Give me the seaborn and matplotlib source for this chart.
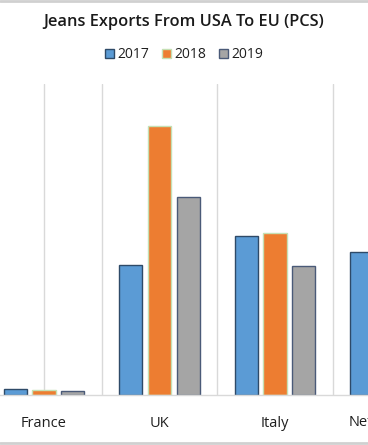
import pandas as pd
import numpy as np
import matplotlib
matplotlib.use('Agg')
import matplotlib.pyplot as plt
import seaborn as sns
from matplotlib.lines import Line2D

# Datos (miles de piezas, estimados del gráfico)
countries = ['France', 'UK', 'Italy', 'Netherlands']
years = ['2017', '2018', '2019']
exports_2017 = [6.0, 130.0, 159.3, 142.5]
exports_2018 = [4.7, 269.0, 162.3, np.nan]
exports_2019 = [3.7, 197.7, 129.3, np.nan]

colors = ['#5B9BD5', '#ED7D31', '#A5A5A5']
edges = ['#2E4A68', '#C5E0B4', '#4A5A78']

df = pd.DataFrame({
    'country': countries * 3,
    'year': [y for y in years for _ in countries],
    'value': exports_2017 + exports_2018 + exports_2019,
})

sns.set_style('white')
plt.rcParams['font.family'] = ['Open Sans', 'DejaVu Sans']

fig = plt.figure(figsize=(3.68, 4.45), dpi=100)
ax = fig.add_axes([0, 1 - 395 / 445, 1, (395 - 84) / 445])

sns.barplot(data=df, x='country', y='value', hue='year', order=countries,
            hue_order=years, palette=colors, width=0.75, gap=0.2,
            saturation=1, ax=ax, legend=False)

for cont, ec in zip(ax.containers, edges):
    for bar in cont:
        bar.set_edgecolor(ec)
        bar.set_linewidth(1.0)

ax.set_xlim(-44 / 115.5, (368 - 44) / 115.5)
ax.set_ylim(0, 311)
ax.set_yticks([])
ax.set_xlabel('')
ax.set_ylabel('')
for s in ['top', 'left', 'right']:
    ax.spines[s].set_visible(False)
ax.spines['bottom'].set_color('#D9D9D9')
ax.spines['bottom'].set_linewidth(1.0)

# líneas verticales de la cuadrícula
ax.xaxis.remove_overlapping_locs = False
ax.set_xticks([0, 0.5, 1.5, 2.5], minor=True)
ax.grid(which='minor', axis='x', color='#D9D9D9', linewidth=1.0)
ax.grid(which='major', visible=False)
ax.set_axisbelow(True)
ax.tick_params(axis='x', which='both', length=0, pad=15, labelsize=10.5,
               labelcolor='#1F1F1F')

# etiqueta de la categoría cortada por el borde derecho
ax.annotate(countries[3], xy=(3, 0), xycoords=('data', 'axes fraction'),
            xytext=(0, -27), textcoords='offset pixels', ha='center', va='center',
            fontsize=10.5, color='#1F1F1F', annotation_clip=False)

handles = [plt.Rectangle((0, 0), 1, 1, facecolor=c, edgecolor=e, linewidth=1)
           for c, e in zip(colors, edges)]
fig.legend(handles, years, loc='center', bbox_to_anchor=(0.5, 1 - 55 / 445),
           ncol=3, frameon=False, fontsize=10, handlelength=0.65,
           handleheight=0.65, handletextpad=0.25, columnspacing=0.9,
           labelcolor='#1F1F1F')

fig.suptitle('Jeans Exports From USA To EU (PCS)', x=0.5, y=1 - 22 / 445,
             va='center', fontsize=11.8, color='#1A1A1A', fontweight='semibold')

# marco del gráfico (recortado)
fig.add_artist(Line2D([0, 1], [1 - 1 / 445, 1 - 1 / 445], color='#D0D0D0',
                      linewidth=2, transform=fig.transFigure))
fig.add_artist(Line2D([0, 1], [1 - 443 / 445, 1 - 443 / 445], color='#D0D0D0',
                      linewidth=2, transform=fig.transFigure))

fig.savefig('out.png', dpi=100)
